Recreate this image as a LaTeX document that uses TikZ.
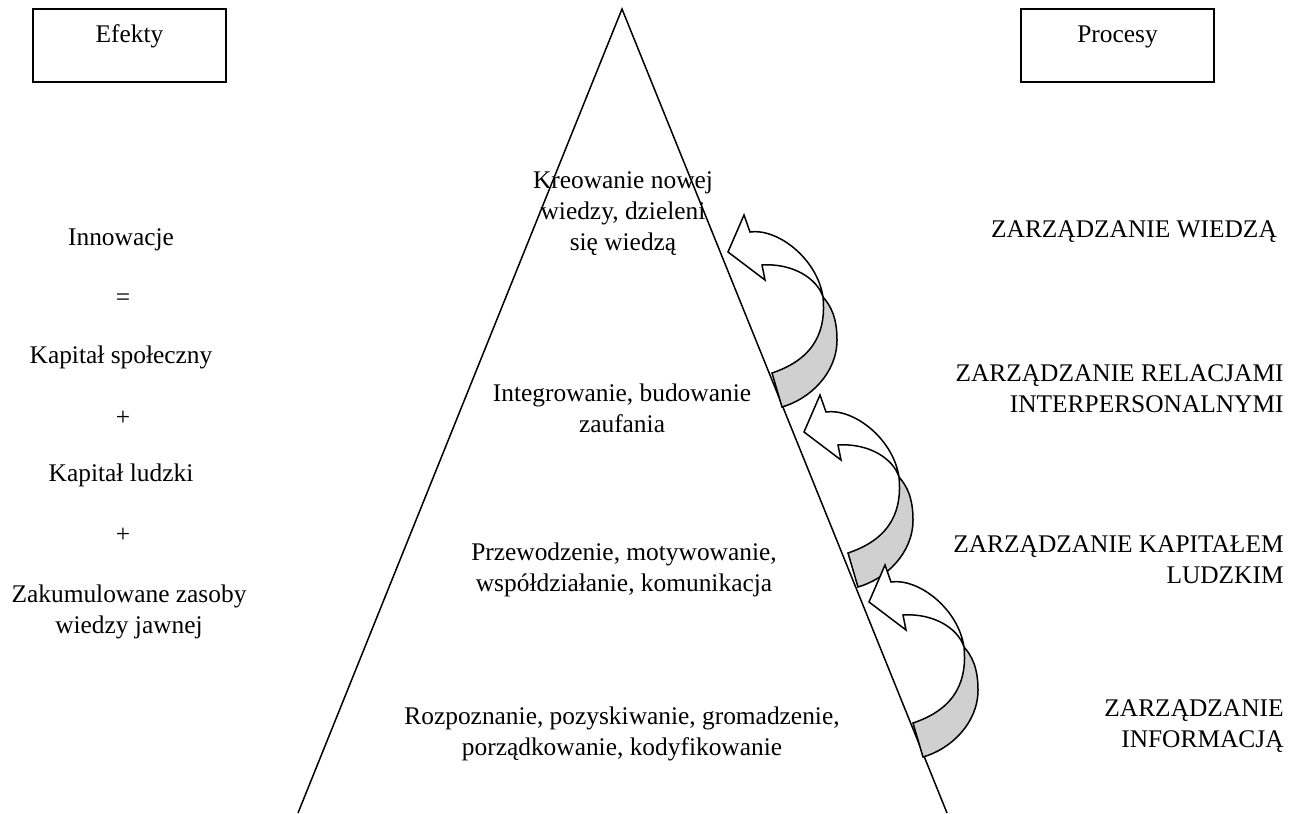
\documentclass[tikz,border=0pt]{standalone}
\usepackage{fontspec}
\setmainfont{Liberation Serif}
\usepackage{tikz}

\tikzset{
  txt/.style={inner sep=0pt, align=center, font=\fontsize{12.7}{15.5}\selectfont},
  headbox/.style={draw, line width=0.75pt, minimum width=96.5pt, inner xsep=0pt, inner ysep=0pt,
    text height=17pt, text depth=19.5pt, font=\fontsize{12.7}{15.5}\selectfont},
  backside/.style={draw, line width=0.75pt, fill={rgb,255:red,208;green,208;blue,208}},
  frontside/.style={draw, line width=0.75pt, fill=white, line join=miter}
}

\begin{document}
\begin{tikzpicture}[x=0.5pt,y=0.5pt,yscale=-1,xscale=1]
        \useasboundingbox (0,0) rectangle (1289,813);

        %Shape: Triangle (open at the bottom)
        \draw [line width=0.75pt]  (298,813) -- (622,9) -- (947,813) ;

        %Curved Arrows
        \foreach \ox/\oy in {772/373, 848/553, 913/723}{
          \draw [backside, shift={(\ox,\oy)}] (0,0) -- (10,34) .. controls (38,26) and (65,0) .. (65,-33)
              .. controls (65,-55) and (59,-67) .. (51,-76) .. controls (54,-45) and (45,-15) .. (0,0) -- cycle ;
          \draw [frontside, shift={(\ox,\oy)}] (-22,-141) .. controls (5,-145) and (45,-115) .. (51,-76)
              .. controls (45,-95) and (20,-110) .. (-10,-108) -- (-7,-93) -- (-44,-121) -- (-28,-158) -- cycle ;
        }

        % Boxes
        \node [headbox] (efekty) at (129.5,45.5) {Efekty};
        \node [headbox] (procesy) at (1117.5,45.5) {Procesy};

        % Text Node: left column
        \node [txt] (innow) at (121,240) {Innowacje};
        \node [txt] (eq) at (123,300) {=};
        \node [txt] (kspol) at (121,357) {Kapitał społeczny};
        \node [txt] (plusa) at (123,418) {+};
        \node [txt] (kludz) at (121,475) {Kapitał ludzki};
        \node [txt] (plusb) at (123,535) {+};
        \node [txt] (zasoby) at (129,612) {Zakumulowane zasoby\\wiedzy jawnej};

        % Text Node: pyramid levels
        \node [txt] (kreow) at (623,214) {Kreowanie nowej\\wiedzy, dzieleni\\się wiedzą};
        \node [txt] (integr) at (622,408) {Integrowanie, budowanie\\zaufania};
        \node [txt] (przew) at (624,570) {Przewodzenie, motywowanie,\\współdziałanie, komunikacja};
        \node [txt] (rozpo) at (622,734) {Rozpoznanie, pozyskiwanie, gromadzenie,\\porządkowanie, kodyfikowanie};

        % Text Node: right column
        \node [txt] (zwiedza) at (1134,232) {ZARZĄDZANIE WIEDZĄ};
        \node [txt, anchor=east, align=right] (zrelac) at (1284,389) {ZARZĄDZANIE RELACJAMI\\INTERPERSONALNYMI};
        \node [txt, anchor=east, align=right] (zkapit) at (1284,560) {ZARZĄDZANIE KAPITAŁEM\\LUDZKIM};
        \node [txt, anchor=east, align=right] (zinfor) at (1284,726) {ZARZĄDZANIE\\INFORMACJĄ};

\end{tikzpicture}
\end{document}
